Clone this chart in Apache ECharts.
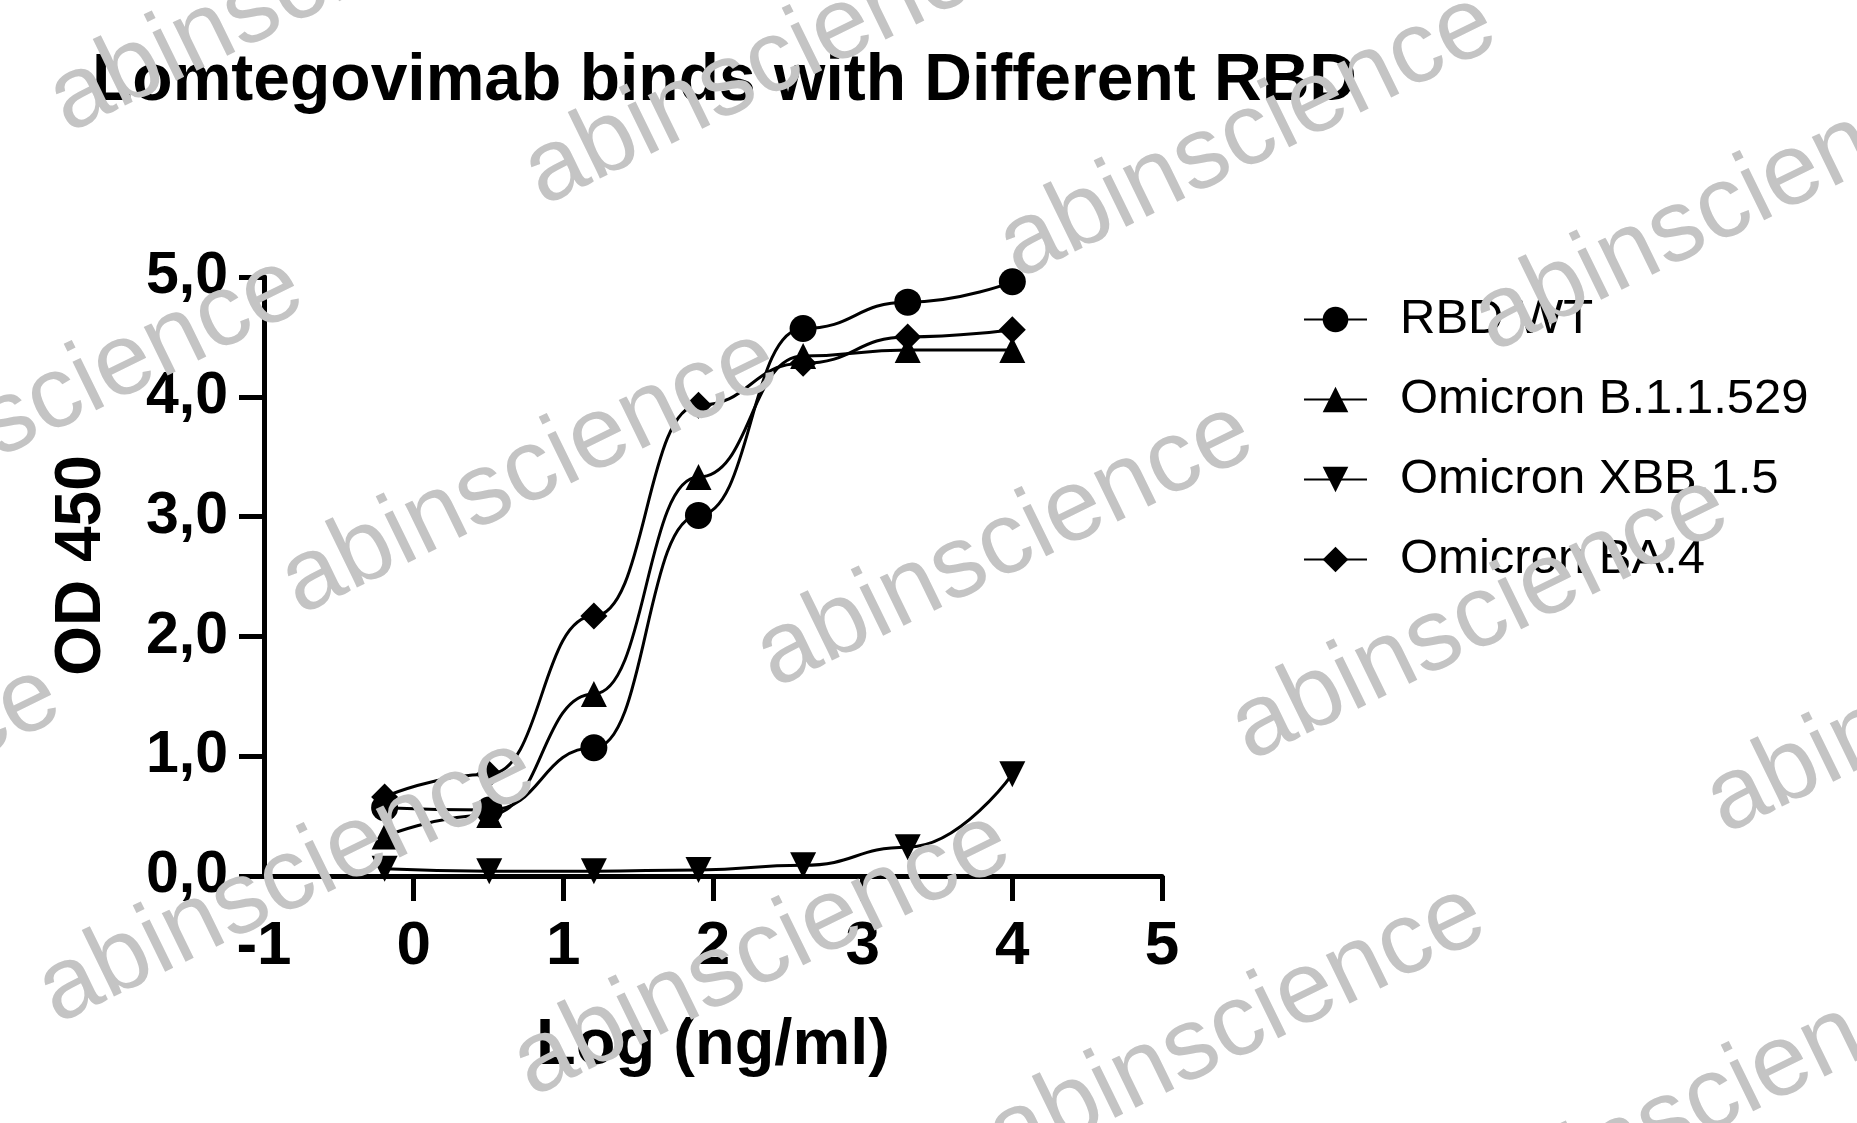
<!DOCTYPE html>
<html>
<head>
<meta charset="utf-8">
<title>Lomtegovimab binds with Different RBD</title>
<script src="https://cdn.jsdelivr.net/npm/echarts@6/dist/echarts.min.js"></script>
<style>
  html, body { margin: 0; padding: 0; background: #fff; }
  #chart { width: 1857px; height: 1123px; }
</style>
</head>
<body>
<div id="chart"></div>
<script>
// log10 of concentration (ng/ml), 5-fold dilution from 10000
var logConc = [-0.194, 0.505, 1.204, 1.903, 2.602, 3.301, 4.0];

var rbdWT = [0.57, 0.55, 1.07, 3.01, 4.57, 4.79, 4.96];
var omicronB11529 = [0.33, 0.51, 1.52, 3.33, 4.34, 4.39, 4.39];
var omicronXBB15 = [0.06, 0.04, 0.04, 0.05, 0.09, 0.24, 0.85];
var omicronBA4 = [0.66, 0.85, 2.17, 3.93, 4.28, 4.50, 4.56];

var seriesNames = ["RBD WT", "Omicron B.1.1.529", "Omicron XBB.1.5", "Omicron BA.4"];

var xTickLabels = ["-1", "0", "1", "2", "3", "4", "5"];
var yTickLabels = ["0,0", "1,0", "2,0", "3,0", "4,0", "5,0"];

var FONT = "'Liberation Sans', Arial, Helvetica, sans-serif";

function pairs(ys) {
  return logConc.map(function (x, i) {
    return [x, ys[i]];
  });
}

function makeSeries(name, ys, symbol, size, rotate) {
  return {
    name: name,
    type: "line",
    data: pairs(ys),
    smooth: 0.5,
    smoothMonotone: "x",
    symbol: symbol,
    symbolSize: size,
    symbolRotate: rotate || 0,
    showAllSymbol: true,
    lineStyle: { color: "#000", width: 3 },
    itemStyle: { color: "#000", borderWidth: 0 },
    emphasis: { disabled: true },
  };
}

// watermark, repeated on a slanted lattice
var wmElements = [];
var wmAngle = (26 * Math.PI) / 180;
for (var r = -1; r <= 1; r++) {
  for (var c = -1; c <= 3; c++) {
    var sx = 310 + c * 475 - r * 243;
    var sy = 636 + c * 73 + r * 409;
    wmElements.push({
      type: "text",
      x: sx,
      y: sy,
      rotation: wmAngle,
      z: 100,
      silent: true,
      style: {
        text: "abinscience",
        fontSize: 102,
        fontFamily: FONT,
        fill: "#c4c4c4",
        align: "left",
        verticalAlign: "bottom",
      },
    });
  }
}

var chart = echarts.init(document.getElementById("chart"));

var option = {
  animation: false,
  backgroundColor: "#fff",
  title: {
    text: "Lomtegovimab binds with Different RBD",
    left: 92,
    top: 49,
    padding: 0,
    textStyle: {
      fontFamily: FONT,
      fontSize: 66,
      fontWeight: "bold",
      color: "#000",
    },
  },
  legend: {
    orient: "vertical",
    left: 1298,
    top: 290,
    itemWidth: 63,
    itemHeight: 32,
    itemGap: 31,
    selectedMode: false,
    data: seriesNames,
    textStyle: {
      fontFamily: FONT,
      fontSize: 49,
      color: "#000",
      padding: [0, 0, 0, 28],
    },
  },
  grid: {
    left: 264,
    right: 695,
    top: 277,
    bottom: 247,
  },
  xAxis: {
    type: "value",
    min: -1,
    max: 5,
    interval: 1,
    name: "Log (ng/ml)",
    nameLocation: "middle",
    nameGap: 138,
    nameTextStyle: {
      fontFamily: FONT,
      fontSize: 65,
      fontWeight: "bold",
      color: "#000",
    },
    splitLine: { show: false },
    axisLine: { onZero: false, lineStyle: { color: "#000", width: 5 } },
    axisTick: {
      length: 25,
      customValues: [0, 1, 2, 3, 4, 5],
      lineStyle: { color: "#000", width: 5 },
    },
    axisLabel: {
      margin: 40,
      fontFamily: FONT,
      fontSize: 62,
      fontWeight: "bold",
      color: "#000",
      formatter: function (v) {
        return xTickLabels[Math.round(v) + 1];
      },
    },
  },
  yAxis: {
    type: "value",
    min: 0,
    max: 5,
    interval: 1,
    name: "OD 450",
    nameLocation: "middle",
    nameRotate: 90,
    nameGap: 150,
    nameTextStyle: {
      fontFamily: FONT,
      fontSize: 64,
      fontWeight: "bold",
      color: "#000",
      padding: [0, 0, 0, 22],
    },
    splitLine: { show: false },
    axisLine: { show: true, onZero: false, lineStyle: { color: "#000", width: 5 } },
    axisTick: {
      show: true,
      length: 25,
      lineStyle: { color: "#000", width: 5 },
    },
    axisLabel: {
      margin: 36,
      fontFamily: FONT,
      fontSize: 59,
      fontWeight: "bold",
      color: "#000",
      formatter: function (v) {
        return yTickLabels[Math.round(v)];
      },
    },
  },
  series: [
    makeSeries(seriesNames[0], rbdWT, "circle", 27),
    makeSeries(seriesNames[1], omicronB11529, "triangle", 26),
    makeSeries(seriesNames[2], omicronXBB15, "triangle", 26, 180),
    makeSeries(seriesNames[3], omicronBA4, "diamond", 27),
  ],
  graphic: { elements: wmElements },
};

chart.setOption(option);
</script>
</body>
</html>
